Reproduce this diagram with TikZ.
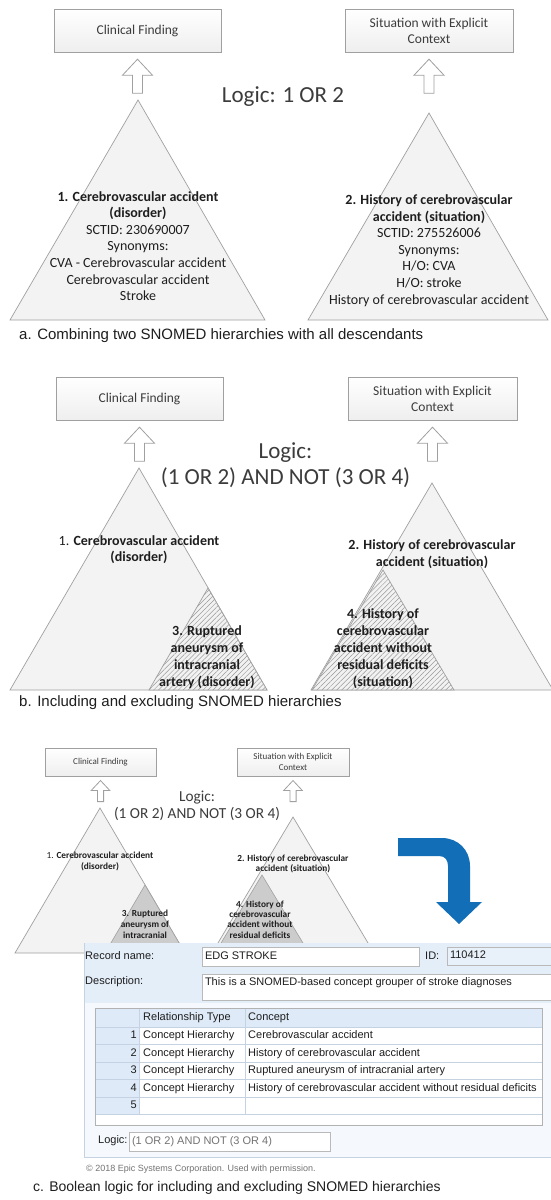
\documentclass[tikz,border=0pt]{standalone}
\usepackage{fontspec}
\setmainfont{Carlito}
\newfontfamily\arialfont{Liberation Sans}
\usetikzlibrary{patterns.meta}

\definecolor{linegray}{RGB}{160,160,160}
\definecolor{trifill}{RGB}{243,243,243}
\definecolor{inktxt}{RGB}{30,30,30}
\definecolor{logicgray}{RGB}{60,60,60}
\definecolor{epicblue}{RGB}{18,110,183}
\definecolor{scrbg}{RGB}{245,249,253}
\definecolor{scrband}{RGB}{228,238,249}
\definecolor{cellblue}{RGB}{222,234,247}
\definecolor{gridline}{RGB}{196,210,225}

% hollow block arrow under a box: #1 box anchor, #2 scale
\newcommand{\hollowarrow}[2]{%
  \draw[linegray,fill=white,line width=0.8pt] #1 ++(0,{7*#2}) -- ++({15*#2},{16*#2}) -- ++({-10*#2},0)
    -- ++(0,{18*#2}) -- ++({-10*#2},0) -- ++(0,{-18*#2}) -- ++({-10*#2},0) -- cycle;}

\begin{document}
\begin{tikzpicture}[x=1pt,y=-1pt,
  catbox/.style={draw=linegray,top color=white,bottom color=gray!13,text=logicgray,align=center,inner sep=0pt},
  tri/.style={draw=linegray,fill=trifill,line width=0.7pt},
  hatch/.style={draw=linegray,line width=0.7pt,preaction={fill=gray!10},
    pattern={Lines[angle=45,distance=3.5pt,line width=0.5pt]},pattern color=gray!80},
  tritext/.style={align=center,text=inktxt,inner sep=0pt,font=\fontsize{14}{16.6}\selectfont},
  smalltext/.style={align=center,text=inktxt,inner sep=0pt,font=\fontsize{9.3}{10.8}\selectfont},
  logic/.style={align=center,text=logicgray,inner sep=0pt},
  caption/.style={anchor=west,inner sep=0pt,text=inktxt,font=\arialfont\fontsize{15}{18}\selectfont},
  scrtxt/.style={inner sep=0pt,text=inktxt,text height=8pt,text depth=2.3pt,font=\arialfont\fontsize{11}{13}\selectfont},
  field/.style={draw=gray!55,fill=white,inner sep=0pt}]
\useasboundingbox[fill=white] (0,0) rectangle (551,1200);

% a
\node[catbox,minimum width=167pt,minimum height=43pt,font=\fontsize{13.5}{16}\selectfont] (cfA) at (137.5,30.5) {Clinical Finding};
\node[catbox,minimum width=168pt,minimum height=43pt,font=\fontsize{13.5}{16}\selectfont] (secA) at (429,30.5) {Situation with Explicit\\Context};
\hollowarrow{(cfA.south)}{1}
\hollowarrow{(secA.south)}{1}
\node[logic,font=\fontsize{23}{26}\selectfont] (logA) at (283,97) {Logic: 1 OR 2};
\draw[tri] (138,100) -- (10,320) -- (265,320) -- cycle;
\draw[tri] (429,113) -- (308,320) -- (548,320) -- cycle;
\node[tritext] (cvaA) at (138,246) {\textbf{1. Cerebrovascular accident}\\\textbf{(disorder)}\\SCTID: 230690007\\Synonyms:\\CVA - Cerebrovascular accident\\Cerebrovascular accident\\Stroke};
\node[tritext] (hisA) at (429,250.5) {\textbf{2. History of cerebrovascular}\\\textbf{accident (situation)}\\SCTID: 275526006\\Synonyms:\\H/O: CVA\\H/O: stroke\\History of cerebrovascular accident};
\node[caption] (capA) at (19,336) {a. Combining two SNOMED hierarchies with all descendants};

% b
\node[catbox,minimum width=167pt,minimum height=43pt,font=\fontsize{13.5}{16}\selectfont] (cfB) at (139.5,398.5) {Clinical Finding};
\node[catbox,minimum width=169pt,minimum height=43pt,font=\fontsize{13.5}{16}\selectfont] (secB) at (432.5,398.5) {Situation with Explicit\\Context};
\hollowarrow{(cfB.south)}{1}
\hollowarrow{(secB.south)}{1}
\node[logic,font=\fontsize{23}{26}\selectfont] (logB) at (285.5,465) {Logic:\\(1 OR 2) AND NOT (3 OR 4)};
\draw[tri] (139,468) -- (10,690) -- (267,690) -- cycle;
\draw[tri] (432,483) -- (311,690) -- (553,690) -- cycle;
\draw[hatch] (208,588) -- (149,690) -- (267,690) -- cycle;
\draw[hatch] (383,570) -- (312,690) -- (454,690) -- cycle;
\node[tritext] (cvaB) at (139,549.5) {1. \textbf{Cerebrovascular accident}\\\textbf{(disorder)}};
\node[tritext] (hisB) at (432,554) {\textbf{2. History of cerebrovascular}\\\textbf{accident (situation)}};
\node[tritext,font=\bfseries\fontsize{14}{16.8}\selectfont] (aneB) at (207,657) {3. Ruptured\\aneurysm of\\intracranial\\artery (disorder)};
\node[tritext,font=\bfseries\fontsize{14}{17}\selectfont] (resB) at (383,649) {4. History of\\cerebrovascular\\accident without\\residual deficits\\(situation)};
\node[caption] (capB) at (19,703) {b. Including and excluding SNOMED hierarchies};

% c
\node[catbox,minimum width=111pt,minimum height=28pt,font=\fontsize{9}{11}\selectfont] (cfC) at (100.5,762) {Clinical Finding};
\node[catbox,minimum width=112pt,minimum height=28pt,font=\fontsize{9}{11}\selectfont] (secC) at (293,762) {Situation with Explicit\\Context};
\hollowarrow{(cfC.south)}{0.62}
\hollowarrow{(secC.south)}{0.62}
\node[logic,font=\fontsize{15.3}{17}\selectfont] (logC) at (197,805.5) {Logic:\\(1 OR 2) AND NOT (3 OR 4)};
\draw[tri] (100,808) -- (15,953) -- (185,953) -- cycle;
\draw[tri] (293,817) -- (212,953) -- (374,953) -- cycle;
\draw[linegray,fill=gray!40,line width=0.6pt] (145,885) -- (105,953) -- (185,953) -- cycle;
\draw[linegray,fill=gray!40,line width=0.6pt] (262,875) -- (215,953) -- (309,953) -- cycle;
\node[smalltext] (cvaC) at (100,861.5) {1. \textbf{Cerebrovascular accident}\\\textbf{(disorder)}};
\node[smalltext] (hisC) at (293,864) {\textbf{2. History of cerebrovascular}\\\textbf{accident (situation)}};
\node[smalltext,font=\bfseries\fontsize{9.3}{10.8}\selectfont] (aneC) at (145,924) {3. Ruptured\\aneurysm of\\intracranial};
\node[smalltext,font=\bfseries\fontsize{9.3}{10.4}\selectfont] (resC) at (260,919.5) {4. History of\\cerebrovascular\\accident without\\residual deficits};
\fill[epicblue] (398,838) -- (442,838) .. controls (458,838) and (470,850) .. (470,866) -- (470,902)
  -- (482,902) -- (459,924) -- (436,902) -- (448,902) -- (448,866) .. controls (448,860) and (445,856) .. (439,856)
  -- (398,856) -- cycle;

% screenshot
\fill[scrbg] (84,943) rectangle (553,1157);
\fill[scrband] (84,943) rectangle (553,1003);
\draw[gridline] (84,943) -- (84,1157) -- (553,1157);
\node[scrtxt,anchor=west] (reclbl) at (85,957) {Record name:};
\node[field,minimum width=217pt,minimum height=19pt] (recfld) at (310.5,956.5) {};
\node[scrtxt,anchor=west] (recval) at ([xshift=3pt]recfld.west) {EDG STROKE};
\node[scrtxt,anchor=west] (idlbl) at (425,957) {ID:};
\node[field,fill=cellblue!70,minimum width=108pt,minimum height=18pt] (idfld) at (501,956) {};
\node[scrtxt,anchor=west] (idval) at ([xshift=3pt]idfld.west) {110412};
\node[scrtxt,anchor=west] (desclbl) at (85,982) {Description:};
\node[field,minimum width=353pt,minimum height=26pt] (descfld) at (378.5,987) {};
\node[scrtxt,anchor=west] (descval) at ([xshift=3pt,yshift=-8.5pt]descfld.north west) {This is a SNOMED-based concept grouper of stroke diagnoses};

\fill[white] (95,1008) rectangle (542,1125);
\fill[cellblue] (95,1008) rectangle (542,1027);
\fill[cellblue] (95,1027) rectangle (139,1114);
\foreach \k in {0,...,5}
  \draw[gridline] (95,{1027+17.5*\k}) -- (542,{1027+17.5*\k});
\draw[gridline] (139,1008) -- (139,1114);
\draw[gridline] (245,1008) -- (245,1114);
\draw[gray!60] (95,1008) rectangle (542,1125);
\node[scrtxt,anchor=west] (relhead) at (143,1017.5) {Relationship Type};
\node[scrtxt,anchor=west] (conhead) at (248,1017.5) {Concept};
\foreach \n/\con in {1/Cerebrovascular accident,2/History of cerebrovascular accident,
    3/Ruptured aneurysm of intracranial artery,4/History of cerebrovascular accident without residual deficits}{
  \node[scrtxt,anchor=east] (num\n) at (137,{1018.25+17.5*\n}) {\n};
  \node[scrtxt,anchor=west] (rel\n) at (143,{1018.25+17.5*\n}) {Concept Hierarchy};
  \node[scrtxt,anchor=west] (con\n) at (248,{1018.25+17.5*\n}) {\con};
}
\node[scrtxt,anchor=east] (num5) at (137,1105.75) {5};

\node[scrtxt,anchor=west] (loglbl) at (98,1141) {Logic:};
\node[field,minimum width=201pt,minimum height=19pt] (logfld) at (229.5,1141.5) {};
\node[scrtxt,anchor=west,text=gray!90!black] (logval) at ([xshift=3pt]logfld.west) {(1 OR 2) AND NOT (3 OR 4)};

\node[anchor=west,inner sep=0pt,text=gray!90!black,font=\arialfont\fontsize{9}{11}\selectfont] (copy) at (86,1169) {© 2018 Epic Systems Corporation. Used with permission.};
\node[caption,font=\arialfont\fontsize{14}{17}\selectfont] (capC) at (33,1188) {c. Boolean logic for including and excluding SNOMED hierarchies};
\end{tikzpicture}
\end{document}
